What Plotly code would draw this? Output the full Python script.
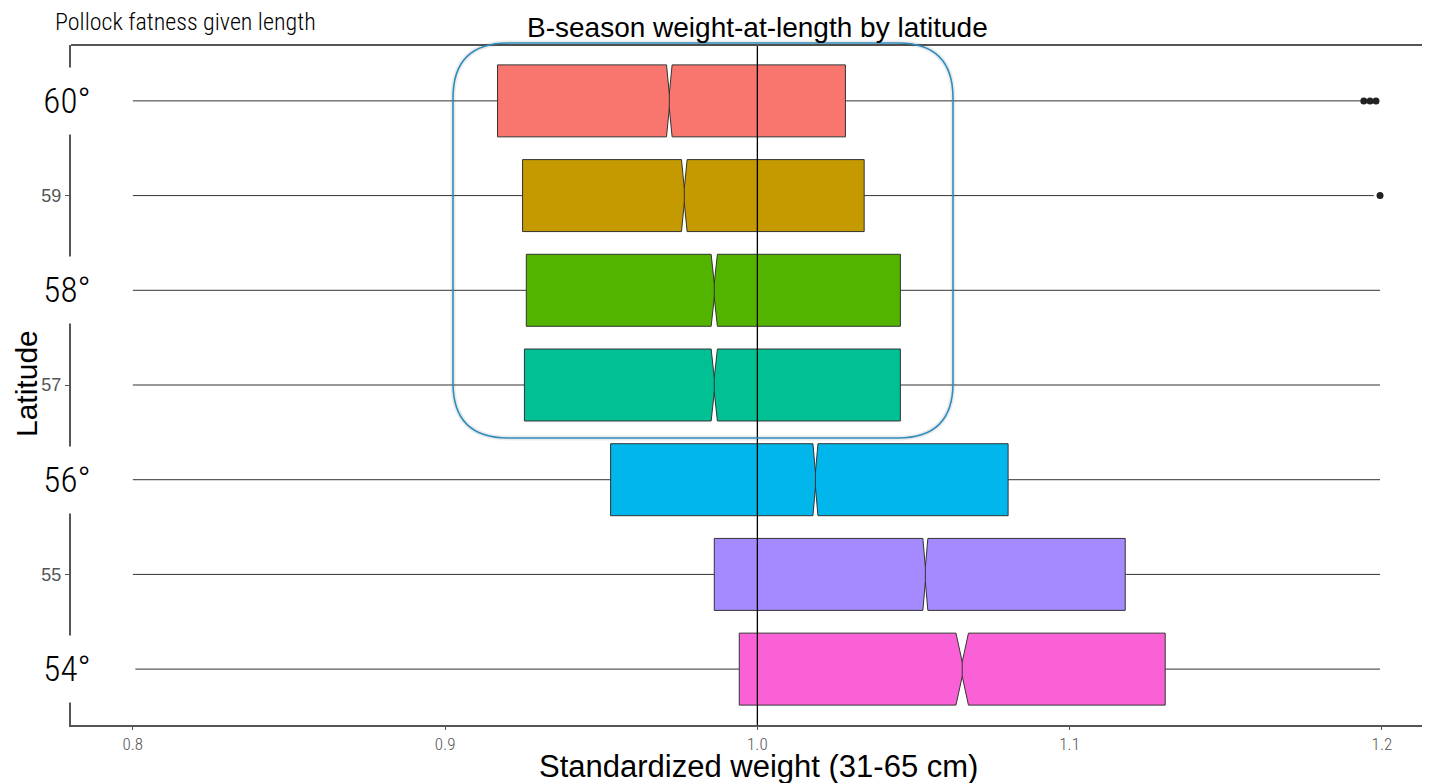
import plotly.graph_objects as go

# ---------------- data ----------------
latitudes = [60, 59, 58, 57, 56, 55, 54]
q1 = [0.9168, 0.9248, 0.9260, 0.9254, 0.9530, 0.9862, 0.9942]
median = [0.9718, 0.9766, 0.9862, 0.9862, 1.0186, 1.0538, 1.0656]
q3 = [1.0282, 1.0342, 1.0458, 1.0458, 1.0803, 1.1178, 1.1306]
lower_whisker = [0.8000, 0.8000, 0.8000, 0.8000, 0.8000, 0.8000, 0.8008]
upper_whisker = [1.1932, 1.1974, 1.1994, 1.1994, 1.1994, 1.1994, 1.1994]
notch_span = [0.0009, 0.0009, 0.0010, 0.0010, 0.0008, 0.0008, 0.0020]
colors = ["#F8766D", "#C49A00", "#53B400", "#00C094", "#00B6EB", "#A58AFF", "#FB61D7"]

outlier_lat = [60, 60, 60, 59]
outlier_val = [1.1942, 1.1962, 1.1981, 1.1994]

major_lat_labels = [60, 58, 56, 54]
minor_ticks = [59, 57, 55]
x_ticks = [0.8, 0.9, 1.0, 1.1, 1.2]
x_ticklabels = ["0.8", "0.9", "1.0", "1.1", "1.2"]

NARROW = "Liberation Sans Narrow, Roboto Condensed, DejaVu Sans Condensed, Arial Narrow, sans-serif"
REG = "Liberation Sans, Arial, Helvetica, sans-serif"

fig = go.Figure()
for i, lat in enumerate(latitudes):
    fig.add_trace(go.Box(
        y=[lat], q1=[q1[i]], median=[median[i]], q3=[q3[i]],
        lowerfence=[lower_whisker[i]], upperfence=[upper_whisker[i]],
        notchspan=[notch_span[i]], notched=True, notchwidth=0.4,
        orientation="h", width=0.76, whiskerwidth=0,
        fillcolor=colors[i], line=dict(color="#333333", width=1),
        boxpoints=False, showlegend=False, hoverinfo="x",
    ))

fig.add_trace(go.Scatter(
    x=outlier_val, y=outlier_lat, mode="markers",
    marker=dict(color="#222222", size=7), showlegend=False,
))

# page geometry (the page body adds an 8px offset)
OFF = 8
W, H = 1430 - OFF, 783 - OFF
L, R, T, B = 71 - OFF, 0, 45 - OFF, 58
pw, ph = W - L - R, H - T - B


def px2paper_x(px):
    return (px - OFF - L) / pw


def px2paper_y(py):
    return (H - B - (py - OFF)) / ph


shapes = []
shapes.append(dict(type="line", xref="x", yref="paper", x0=1.0, x1=1.0, y0=0, y1=1,
                   line=dict(color="black", width=1.3), layer="above"))
shapes.append(dict(type="line", xref="paper", yref="paper", x0=0, x1=1, y0=1, y1=1,
                   line=dict(color="#555555", width=2), layer="above"))

x0p, x1p, y0p, y1p, r = 453, 953, 43, 438, 55
def P(px, py):
    return f"{px2paper_x(px):.5f},{px2paper_y(py):.5f}"
path = (f"M {P(x0p + r, y0p)} L {P(x1p - r, y0p)} Q {P(x1p, y0p)} {P(x1p, y0p + r)} "
        f"L {P(x1p, y1p - r)} Q {P(x1p, y1p)} {P(x1p - r, y1p)} "
        f"L {P(x0p + r, y1p)} Q {P(x0p, y1p)} {P(x0p, y1p - r)} "
        f"L {P(x0p, y0p + r)} Q {P(x0p, y0p)} {P(x0p + r, y0p)} Z")
shapes.append(dict(type="path", xref="paper", yref="paper", path=path,
                   line=dict(color="rgba(0,0,0,0.08)", width=5), layer="above"))
shapes.append(dict(type="path", xref="paper", yref="paper", path=path,
                   line=dict(color="#2E8DBE", width=1.6), layer="above"))

annotations = []
for lat in major_lat_labels:
    annotations.append(dict(
        xref="paper", yref="y", x=px2paper_x(67), y=lat, xanchor="center", yanchor="middle",
        text=f"{lat}°", showarrow=False, bgcolor="white",
        width=60, height=64,
        font=dict(family=NARROW, size=35, color="black", weight=300),
    ))
annotations.append(dict(
    xref="paper", yref="paper", x=px2paper_x(53), y=px2paper_y(22), xanchor="left", yanchor="middle",
    text="Pollock fatness given length", showarrow=False,
    font=dict(family=NARROW, size=24, color="black", weight=300),
))
annotations.append(dict(
    xref="paper", yref="paper", x=px2paper_x(757), y=px2paper_y(27), xanchor="center", yanchor="middle",
    text="B-season weight-at-length by latitude", showarrow=False,
    font=dict(family=REG, size=28, color="black"),
))
annotations.append(dict(
    xref="paper", yref="paper", x=px2paper_x(758), y=px2paper_y(766), xanchor="center", yanchor="middle",
    text="Standardized weight (31-65 cm)", showarrow=False, borderpad=0,
    font=dict(family=REG, size=31, color="black"),
))
annotations.append(dict(
    xref="paper", yref="paper", x=px2paper_x(26), y=px2paper_y(384), xanchor="center", yanchor="middle",
    text="Latitude", showarrow=False, textangle=-90,
    font=dict(family=REG, size=30, color="black"),
))

fig.update_layout(
    width=W, height=H,
    margin=dict(l=L, r=R, t=T, b=B, pad=0),
    paper_bgcolor="white", plot_bgcolor="white",
    shapes=shapes, annotations=annotations,
    boxmode="overlay",
    xaxis=dict(range=[0.7802, 1.2154], tickvals=x_ticks, ticktext=x_ticklabels,
               showgrid=False, zeroline=False, showline=True, linecolor="#555555", linewidth=2,
               ticks="outside", ticklen=3, tickcolor="#555555", tickwidth=1,
               tickfont=dict(family=NARROW, size=17, color="#555555", weight=300)),
    yaxis=dict(range=[53.41, 60.59], tickvals=minor_ticks, ticktext=[str(v) for v in minor_ticks],
               showgrid=False, zeroline=False, showline=True, linecolor="#555555", linewidth=2,
               ticks="outside", ticklen=4, tickcolor="#555555", tickwidth=1,
               tickfont=dict(family=REG, size=18, color="#555555")),
)

fig.write_html("out.html")
